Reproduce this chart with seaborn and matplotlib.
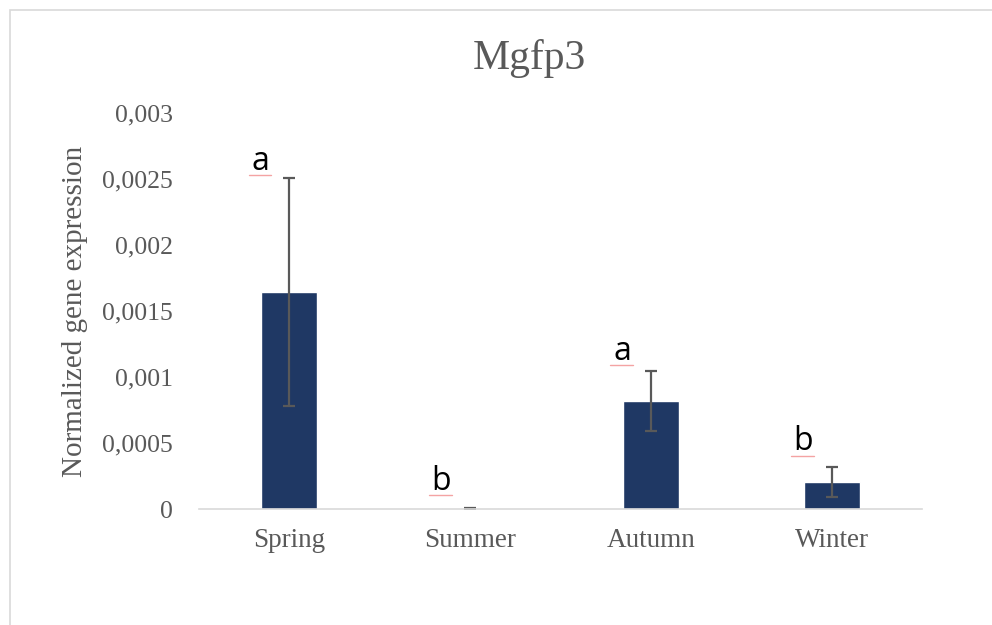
import numpy as np
import pandas as pd
import seaborn as sns
import matplotlib.pyplot as plt
from matplotlib.patches import Rectangle
from matplotlib.ticker import FuncFormatter, MultipleLocator

seasons = ['Spring', 'Summer', 'Autumn', 'Winter']
expression = [0.001645, 0.000005, 0.000818, 0.000205]
sem = [0.000865, 0.000002, 0.000227, 0.000113]
letters = ['a', 'b', 'a', 'b']
letter_y = [0.00257, 0.000145, 0.00113, 0.000445]

df = pd.DataFrame({'season': seasons, 'expr': expression})

sns.set_style('white')
plt.rcParams['font.family'] = ['Liberation Serif', 'DejaVu Serif']

fig = plt.figure(figsize=(9.92, 6.25), dpi=100)
ax = fig.add_axes([199 / 992, 1 - 509 / 625, 723 / 992, 396 / 625])

# chart border like the excel frame
fig.patches.append(Rectangle((10 / 992, -0.05), 1.1, 1 - 10 / 625 + 0.05,
                             transform=fig.transFigure, fill=False,
                             edgecolor='#D9D9D9', linewidth=1.2))

sns.barplot(data=df, x='season', y='expr', color='#1F3864', width=0.31,
            saturation=1, errorbar=None, ax=ax)
x = np.arange(len(seasons))
ax.errorbar(x, expression, yerr=sem, fmt='none', ecolor='#595959',
            elinewidth=1.6, capsize=4.5, capthick=1.6)

for xi, lab, ly in zip(x, letters, letter_y):
    ax.text(xi - 0.16, ly, lab, ha='center', va='baseline', fontsize=23,
            family=['Open Sans', 'DejaVu Sans'], color='black')
    ax.plot([xi - 0.225, xi - 0.1], [ly - 0.00004, ly - 0.00004],
            color='#F4A3A3', linewidth=1.0)

ax.set_ylim(0, 0.003)
ax.set_xlim(-0.5, 3.5)
ax.yaxis.set_major_locator(MultipleLocator(0.0005))
ax.yaxis.set_major_formatter(FuncFormatter(lambda v, p: f'{v:g}'.replace('.', ',')))

for s in ['top', 'right', 'left']:
    ax.spines[s].set_visible(False)
ax.spines['bottom'].set_color('#D9D9D9')
ax.spines['bottom'].set_linewidth(1.2)
ax.tick_params(axis='both', length=0, labelcolor='#595959')
ax.tick_params(axis='y', pad=19, labelsize=18.5)
ax.tick_params(axis='x', pad=14, labelsize=19.5)
ax.set_xlabel('')
ax.set_ylabel('Normalized gene expression', fontsize=21, color='#595959')
ax.yaxis.set_label_coords(-0.153, 0.5)

fig.text(529 / 992, 1 - 58 / 625, 'Mgfp3', ha='center', va='center',
         fontsize=30, color='#595959')

fig.savefig('out.png', dpi=100)
